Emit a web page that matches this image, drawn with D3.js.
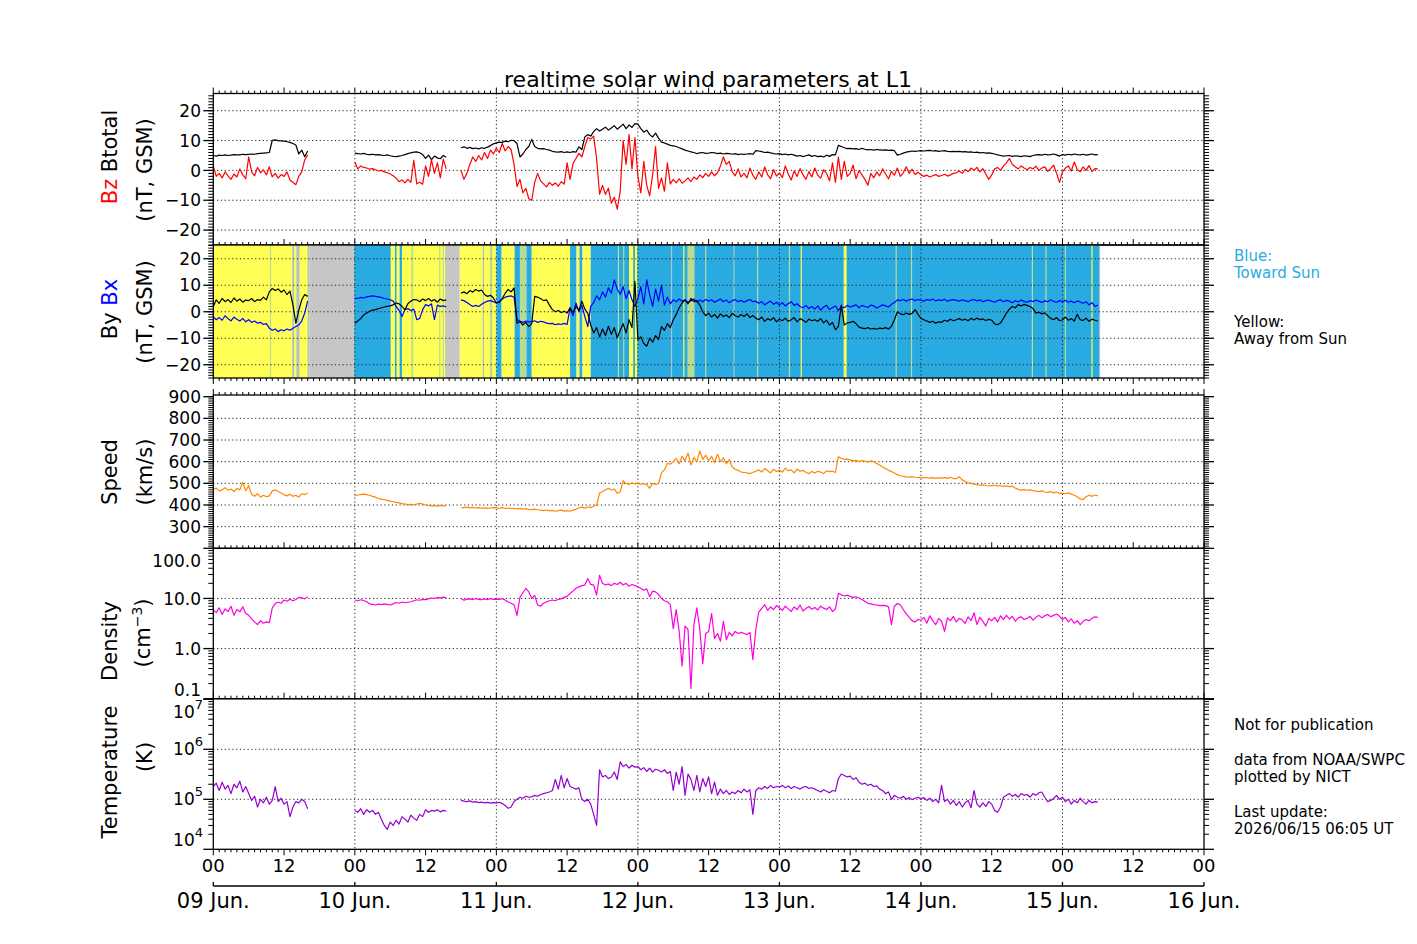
<!DOCTYPE html>
<meta charset="utf-8">
<script src="https://d3js.org/d3.v7.min.js"></script>
<style>
  body { margin: 0; background: #fff; }
  text { font-family: "DejaVu Sans", sans-serif; }
</style>
<div id="chart"></div>
<script>
var _ = null;
// one sample every 30 minutes, first sample at 09 Jun 00:00 UT
var stepHours = 0.5;

// Btotal (nT)
var btotal = [
  5.0,4.8,5.1,5.0,5.2,5.0,5.1,5.3,5.2,5.2,5.4,5.3,
  5.4,5.5,5.4,5.6,5.7,5.8,5.9,6.0,10.1,10.2,10.0,9.9,
  9.8,9.6,9.4,9.0,8.5,5.5,6.8,4.6,6.5,_,_,_,
  _,_,_,_,_,_,_,_,_,_,_,_,
  5.8,5.6,5.5,5.7,5.4,5.3,5.4,5.2,5.3,5.1,5.0,5.2,
  4.9,4.7,4.6,4.8,5.0,5.3,5.6,5.9,6.1,6.2,5.9,5.3,
  4.0,5.1,3.6,4.8,4.2,3.9,5.0,4.4,_,_,_,_,
  7.6,7.9,7.4,7.7,7.3,7.5,7.2,7.6,7.4,7.8,8.3,8.9,
  9.2,9.5,9.4,9.8,9.6,10.1,10.0,9.0,4.5,5.5,7.0,8.0,
  10.4,8.0,7.4,7.2,7.3,7.0,6.8,6.4,6.2,6.1,6.3,6.0,
  6.2,6.0,6.3,6.1,7.9,7.0,11.2,12.0,11.5,13.0,14.0,13.2,
  13.8,14.5,13.5,14.2,15.0,13.8,14.6,15.5,14.0,15.2,14.4,15.7,
  15.5,14.0,12.8,13.5,12.0,11.2,12.5,10.8,9.5,9.2,8.8,8.4,
  8.2,8.0,7.6,7.2,6.8,6.5,6.2,6.0,5.6,5.9,6.0,5.7,
  5.8,6.0,5.9,5.6,5.8,5.5,5.7,5.6,5.4,5.6,5.3,5.5,
  5.4,5.5,5.6,5.4,6.6,6.5,6.3,6.0,6.1,5.9,5.6,5.5,
  5.6,5.3,5.5,5.2,5.4,5.1,4.8,5.0,4.6,4.9,5.2,4.7,
  5.0,4.6,4.8,4.5,5.1,4.7,5.3,5.2,8.4,8.0,7.6,7.3,
  7.4,7.2,7.3,7.0,7.4,7.1,6.9,7.0,6.8,7.0,6.9,6.8,
  6.9,6.7,6.8,6.6,5.1,5.4,5.8,6.1,6.3,6.5,6.4,6.5,
  6.6,6.5,6.6,6.7,6.5,6.6,6.4,6.5,6.6,6.4,6.3,6.4,
  6.3,6.4,6.2,6.3,6.1,6.2,6.0,6.1,5.9,6.0,5.8,5.9,
  5.7,5.5,5.2,5.0,4.8,4.9,5.0,4.7,4.9,4.8,4.6,4.9,
  4.8,4.6,5.0,5.2,5.3,5.1,5.4,5.2,5.3,5.5,5.2,4.8,
  5.3,5.1,5.4,5.2,5.5,5.3,5.2,5.4,5.1,5.3,5.5,5.2,
  5.3
];

// Bz GSM (nT)
var bz = [
  1.5,-2.0,-1.0,-2.5,-0.5,-1.8,-3.0,-1.2,-2.2,0.5,-1.5,-2.8,
  4.5,-0.5,-1.8,1.0,-0.8,0.2,-1.5,1.2,-2.2,-1.0,-2.6,-1.4,
  -2.0,-0.5,-3.2,-4.0,-4.8,-2.0,-0.5,3.5,5.2,_,_,_,
  _,_,_,_,_,_,_,_,_,_,_,_,
  2.8,0.5,1.5,1.0,0.8,0.4,0.6,0.2,-0.2,0.0,-0.5,-0.8,
  -1.2,-1.8,-2.6,-3.8,-3.2,-4.2,-3.0,-4.0,3.4,-4.5,-4.0,-4.6,
  1.5,-2.0,3.5,-1.0,2.5,-2.5,3.8,0.5,_,_,_,_,
  0.0,-3.0,-1.0,2.0,4.5,3.0,5.0,3.5,6.0,4.0,6.8,5.5,
  7.5,6.0,9.0,6.5,8.0,7.0,2.0,-5.4,-3.0,-7.5,-6.0,-9.5,
  -10.0,-4.0,-1.0,-3.5,-4.5,-5.5,-4.0,-5.0,-4.2,-5.3,-3.8,-4.6,
  2.5,-3.0,2.3,4.0,5.7,4.5,8.0,11.0,10.5,11.5,4.0,-8.0,
  -5.0,-8.0,-6.0,-11.0,-9.0,-13.0,-7.0,10.0,2.0,12.0,0.5,11.0,
  -2.0,-7.5,3.0,-5.0,-8.5,-1.5,8.0,-6.0,-2.5,-7.0,2.5,-4.5,
  -3.0,-4.2,-2.8,-4.3,-3.5,-2.5,-3.8,-2.2,-3.0,-1.5,-2.4,-1.0,
  -2.0,-0.5,-1.8,-0.8,1.5,4.5,2.0,3.0,-0.5,-1.8,0.5,-2.2,
  -1.0,-2.5,0.8,-1.6,-3.0,-0.5,-2.2,1.2,-1.4,-2.8,0.3,-1.9,
  -0.8,-2.4,1.5,-1.2,-3.2,-0.2,-2.0,0.6,-1.5,-3.0,-0.4,-2.2,
  0.8,-1.6,-2.6,0.2,-1.0,-3.5,2.5,-4.0,4.5,-3.0,3.0,-2.0,
  -1.0,1.8,-2.8,0.0,-1.5,-3.0,-5.0,-1.0,-2.5,-0.5,-1.8,0.5,
  -1.2,-2.8,-0.3,-1.6,0.8,-2.0,-0.8,1.2,-1.0,0.4,-1.4,-0.6,
  -1.5,-2.0,-1.6,-2.2,-1.8,-1.4,-2.0,-1.7,-1.3,-1.9,-1.5,-1.0,
  -0.8,-0.2,-1.0,0.3,-0.4,0.8,0.0,1.0,-0.5,0.6,-1.2,-3.0,
  -1.5,0.5,1.0,0.0,1.5,2.5,4.0,2.0,1.2,0.5,1.5,0.8,
  0.2,1.0,0.5,1.4,0.0,0.8,1.2,-0.3,0.6,1.8,-1.0,-4.0,
  -0.5,0.8,1.5,-0.2,2.8,0.3,-0.5,1.2,0.0,1.6,-0.4,0.6,
  0.5
];

// By GSM (nT)
var by = [
  2.0,4.5,3.2,5.0,3.8,4.6,3.5,5.2,4.0,4.8,3.6,4.4,
  4.2,5.0,3.8,4.6,4.3,5.5,4.5,7.5,8.8,8.0,8.6,7.4,
  8.2,6.5,7.8,2.7,-4.3,0.5,4.5,6.5,5.8,_,_,_,
  _,_,_,_,_,_,_,_,_,_,_,_,
  -4.3,-3.5,-2.6,-1.2,-0.5,0.2,0.6,0.8,1.2,1.5,1.8,2.0,
  2.2,2.6,3.3,3.0,2.0,0.8,3.0,4.0,4.6,4.5,3.8,4.8,
  4.2,5.0,4.0,4.6,3.6,4.8,4.2,4.5,_,_,_,_,
  7.0,7.5,6.8,8.0,7.4,8.4,7.8,8.2,6.5,5.8,6.2,5.2,
  3.3,3.5,5.0,7.0,8.4,7.5,9.0,-4.3,-3.7,-5.0,-4.0,-5.6,
  -4.5,5.8,5.5,5.0,4.2,4.5,2.5,0.8,0.0,0.5,-0.3,0.2,
  -0.5,1.5,-0.3,2.0,0.5,4.0,1.0,-0.5,-5.0,-8.0,-6.0,-9.5,
  -6.5,-9.0,-5.5,-8.5,-6.0,-9.8,-7.0,-4.5,-8.0,-3.0,-6.0,11.5,
  -10.5,-9.5,-12.0,-13.0,-10.0,-11.5,-9.0,-10.5,-5.6,-7.0,-4.5,-6.0,
  -3.0,-1.0,1.5,3.3,4.5,3.0,5.0,3.8,4.2,2.5,0.0,-1.5,
  -0.5,-2.0,-1.0,-2.4,-0.8,-1.8,-1.2,-2.2,-0.6,-1.5,-2.0,-1.0,
  -1.8,-0.8,-2.2,-1.4,-2.4,-3.0,-2.0,-3.6,-2.6,-3.2,-2.2,-3.8,
  -2.8,-3.4,-2.4,-3.6,-3.0,-2.2,-3.8,-2.6,-3.2,-4.0,-2.8,-3.4,
  -3.0,-3.6,-2.6,-4.2,-3.2,-5.0,-4.0,-6.8,-5.5,2.5,-5.0,-4.2,
  -4.0,-3.6,-4.5,-5.8,-6.2,-6.4,-6.0,-6.5,-6.3,-6.6,-6.2,-6.4,
  -6.0,-6.5,-5.5,-3.0,0.0,-0.8,-1.1,-0.5,-1.0,-0.6,0.8,-1.0,
  -2.5,-3.0,-3.5,-4.0,-3.6,-4.3,-3.8,-4.0,-3.2,-3.6,-2.8,-3.4,
  -3.0,-2.6,-3.2,-2.8,-3.4,-2.5,-3.1,-2.4,-3.0,-2.7,-3.3,-2.9,
  -3.2,-4.6,-4.9,-4.2,-2.5,-0.5,1.0,2.0,1.5,2.7,2.2,2.8,
  2.4,2.0,1.2,-0.5,-0.2,-0.8,-0.4,-1.5,-2.5,-3.0,-2.2,-3.4,
  -3.0,-2.0,-3.2,-2.6,-3.5,-1.0,-3.0,-3.3,-2.4,-3.6,-2.8,-3.2,
  -3.5
];

// Bx GSM (nT)
var bx = [
  -2.0,-3.0,-2.2,-3.2,-1.5,-2.6,-3.4,-2.0,-2.8,-3.5,-2.5,-3.8,
  -3.0,-4.0,-3.5,-4.3,-4.0,-4.8,-4.5,-6.2,-7.0,-6.5,-7.5,-6.8,
  -7.2,-6.5,-7.0,-6.2,-5.6,-5.0,-3.5,-0.5,4.0,_,_,_,
  _,_,_,_,_,_,_,_,_,_,_,_,
  5.2,5.0,5.4,5.2,5.6,5.8,6.0,5.8,5.6,5.4,5.0,4.8,
  4.5,4.0,2.0,0.5,-1.8,0.8,1.2,0.5,1.0,-3.0,-2.5,0.8,
  2.7,2.2,3.0,-3.0,2.5,2.0,2.2,1.8,_,_,_,_,
  4.5,4.2,3.5,2.7,2.0,2.4,2.0,2.8,3.5,4.0,4.2,3.8,
  3.3,4.0,4.8,5.5,5.8,6.0,5.5,-3.0,-3.5,-4.0,-3.5,-3.8,
  -3.7,-3.4,-4.0,-3.6,-3.8,-4.3,-4.5,-4.4,-4.9,-4.6,-4.8,-4.4,
  -4.8,1.5,-1.5,3.3,0.0,2.5,-1.8,-5.6,2.0,3.5,6.0,4.5,
  7.5,5.5,9.0,7.0,12.0,8.5,6.5,9.5,5.0,8.0,4.5,2.0,
  5.0,9.5,3.0,12.0,6.5,2.0,8.5,4.0,10.0,2.5,5.5,3.0,
  4.5,3.8,4.8,4.0,4.5,3.5,4.2,4.8,3.6,4.4,3.8,4.6,
  4.0,4.5,3.6,4.2,4.8,3.8,4.4,3.4,4.2,4.6,3.8,4.3,
  3.6,4.2,4.6,3.8,4.0,3.2,3.8,2.6,3.4,4.0,2.8,3.6,
  2.5,3.4,2.2,3.0,3.8,2.4,3.0,2.0,1.5,2.4,1.2,2.0,
  1.0,2.2,0.6,1.8,2.4,0.8,1.6,2.2,0.4,2.0,1.5,2.4,
  1.8,2.2,2.6,1.5,2.4,2.0,1.6,2.5,2.2,1.4,2.0,2.6,
  2.2,1.8,2.8,3.5,4.5,4.2,4.6,4.0,4.5,4.8,4.2,4.6,
  4.4,4.0,4.6,4.3,4.8,4.1,4.5,4.2,4.7,4.0,4.4,4.6,
  4.3,4.0,4.5,4.2,3.8,4.4,4.6,4.1,4.5,3.8,4.2,4.4,
  4.0,3.6,4.2,4.5,3.8,4.3,4.0,3.4,4.2,3.7,4.4,3.9,
  3.6,4.2,3.8,4.4,4.0,3.5,4.1,3.8,4.5,3.9,3.6,4.2,
  3.8,4.3,3.6,4.0,3.4,4.1,3.7,3.2,3.8,2.6,3.4,2.0,
  2.5
];

// bulk speed (km/s)
var speed = [
  472,478,465,470,480,468,474,462,476,470,505,466,
  490,448,440,452,436,445,438,442,465,470,462,455,
  448,442,450,440,445,436,452,448,455,_,_,_,
  _,_,_,_,_,_,_,_,_,_,_,_,
  442,446,448,450,448,445,440,436,430,427,424,421,
  418,415,412,410,406,404,402,403,401,404,408,404,
  400,398,396,397,395,398,396,397,_,_,_,_,
  386,388,390,387,389,386,388,385,387,384,386,388,
  387,385,388,384,386,383,385,382,384,381,383,380,
  379,381,378,376,374,377,373,375,371,374,376,372,
  374,371,376,380,386,390,385,392,388,394,400,455,
  462,470,477,469,474,454,460,512,500,495,502,497,
  500,496,498,494,477,500,495,498,548,562,592,588,
  600,615,590,625,605,640,585,620,598,650,610,630,
  605,625,595,635,600,618,590,610,575,565,560,552,
  550,548,545,550,556,562,552,568,558,548,565,555,
  560,552,570,558,562,548,566,556,560,550,545,555,
  548,556,552,545,558,554,556,550,623,615,610,612,
  608,604,606,600,605,603,598,604,600,592,585,575,
  568,560,555,548,540,535,532,530,529,531,528,527,
  526,525,527,524,526,523,525,524,526,523,528,522,
  522,530,516,508,502,500,496,494,491,493,490,488,
  489,491,487,490,486,488,484,487,478,472,469,471,
  468,470,466,464,462,465,460,458,462,456,460,454,
  455,452,456,450,445,438,428,425,438,445,440,446,
  442
];

// proton density (cm^-3)
var density = [
  5.9,5.2,6.5,4.8,6.2,5.5,7.0,4.6,6.0,5.4,6.8,5.0,
  4.6,3.9,3.4,3.0,3.6,3.2,3.4,3.3,6.5,7.9,8.4,8.0,
  9.3,8.8,9.6,9.0,9.5,10.5,10.3,9.8,10.8,_,_,_,
  _,_,_,_,_,_,_,_,_,_,_,_,
  9.3,9.0,9.4,9.1,8.6,7.8,7.6,7.4,7.7,7.5,7.8,7.6,
  7.4,7.8,8.3,8.0,8.5,8.2,8.4,8.6,9.0,9.4,9.2,9.6,
  9.5,9.8,10.2,10.0,10.4,10.3,10.6,10.4,_,_,_,_,
  10.0,9.2,9.7,9.8,9.5,9.9,9.6,9.4,9.8,9.5,9.9,9.6,
  9.7,9.5,9.9,9.3,8.5,8.0,7.5,4.6,10.5,13.0,15.8,13.5,
  10.0,11.5,7.4,7.0,8.0,8.5,9.0,9.3,9.0,9.6,9.8,10.5,
  11.0,12.5,14.0,16.0,17.0,18.0,18.5,25.0,19.0,18.5,11.6,29.0,
  20,18.5,19.5,18,20,19,21,18.5,20,17.5,19,18,
  17,16,14.6,15.5,10.8,14.0,13.5,12.0,10.0,9.0,8.6,7.5,
  2.5,6.0,2.2,0.45,2.8,2.4,0.16,3.0,6.5,2.4,0.5,2.0,
  2.2,5.0,1.6,2.0,1.4,3.5,1.5,2.1,1.8,2.2,2.0,2.1,
  2.0,1.9,2.1,0.6,2.4,5.4,6.3,7.5,5.8,6.8,6.0,7.2,
  6.5,5.8,7.0,6.2,5.5,6.8,6.0,7.4,5.6,6.3,6.9,6.1,
  6.6,5.9,7.0,6.4,6.0,6.8,5.5,6.2,12.6,11.8,11.2,11.6,
  11.0,10.5,10.8,10.2,9.5,8.8,8.0,7.8,7.5,7.4,7.2,7.3,
  7.2,6.8,3.0,7.0,7.9,7.5,6.0,5.0,4.2,3.6,3.4,3.8,
  3.7,4.2,3.2,4.5,3.6,3.0,4.0,3.5,2.2,4.1,3.6,4.4,
  3.4,4.0,3.7,3.2,4.3,3.6,5.2,3.0,4.2,3.5,2.8,4.0,
  3.6,4.2,3.4,4.5,3.8,4.6,3.9,4.4,3.5,4.1,4.3,3.8,
  4.0,4.4,3.7,4.2,4.6,4.1,4.5,4.8,4.3,4.6,4.9,4.4,
  3.8,4.2,3.4,3.9,3.2,3.6,3.0,3.5,3.8,3.6,4.0,4.3,
  4.2
];

// proton temperature (K)
var temperature = [
  1.8e5,2.1e5,1.5e5,2.2e5,1.6e5,1.9e5,1.3e5,2.0e5,1.7e5,2.3e5,1.4e5,1.8e5,
  1.3e5,0.95e5,1.15e5,0.7e5,1.0e5,0.85e5,1.1e5,0.8e5,0.95e5,1.8e5,0.9e5,1.05e5,
  0.8e5,0.9e5,0.45e5,0.7e5,0.9e5,0.85e5,1.0e5,0.9e5,0.65e5,_,_,_,
  _,_,_,_,_,_,_,_,_,_,_,_,
  0.6e5,0.55e5,0.65e5,0.5e5,0.62e5,0.55e5,0.6e5,0.5e5,0.55e5,0.4e5,0.3e5,0.25e5,
  0.35e5,0.3e5,0.38e5,0.32e5,0.45e5,0.4e5,0.35e5,0.48e5,0.42e5,0.38e5,0.5e5,0.45e5,
  0.62e5,0.55e5,0.6e5,0.58e5,0.62e5,0.56e5,0.6e5,0.58e5,_,_,_,_,
  0.95e5,0.92e5,0.9e5,0.93e5,0.88e5,0.9e5,0.86e5,0.88e5,0.85e5,0.87e5,0.84e5,0.86e5,
  0.85e5,0.87e5,0.82e5,0.75e5,0.66e5,0.7e5,0.9e5,1.0e5,1.1e5,1.05e5,1.15e5,1.1e5,
  1.12e5,1.2e5,1.15e5,1.25e5,1.3e5,1.35e5,1.4e5,1.5e5,2.5e5,1.6e5,3.0e5,1.7e5,
  2.6e5,1.8e5,1.7e5,1.6e5,1.7e5,1.0e5,0.9e5,1.0e5,0.8e5,0.5e5,0.3e5,3.9e5,
  2.8e5,3.0e5,2.6e5,2.8e5,3.5e5,2.5e5,5.6e5,4.5e5,5.0e5,4.2e5,4.8e5,4.4e5,
  4.5e5,3.9e5,4.3e5,3.6e5,4.2e5,3.5e5,4.0e5,3.8e5,3.5e5,3.9e5,3.3e5,3.6e5,
  1.5e5,3.5e5,2.0e5,4.5e5,1.2e5,3.2e5,2.5e5,1.5e5,3.0e5,1.4e5,2.6e5,1.8e5,
  2.8e5,1.3e5,2.2e5,1.2e5,1.6e5,1.3e5,1.5e5,1.25e5,1.4e5,1.3e5,1.5e5,1.35e5,
  1.6e5,1.4e5,1.55e5,0.5e5,1.5e5,1.7e5,1.6e5,1.8e5,1.65e5,1.9e5,1.7e5,1.8e5,
  1.75e5,1.9e5,1.7e5,1.85e5,1.65e5,1.8e5,1.7e5,1.6e5,1.75e5,1.8e5,1.65e5,1.7e5,
  1.6e5,1.5e5,1.4e5,1.55e5,1.45e5,1.35e5,1.5e5,1.45e5,2.6e5,3.2e5,3.0e5,2.8e5,
  2.9e5,2.5e5,2.7e5,2.2e5,2.0e5,2.1e5,1.9e5,2.0e5,1.8e5,1.85e5,1.6e5,1.5e5,
  1.3e5,1.4e5,1.0e5,1.2e5,1.1e5,1.05e5,1.15e5,1.0e5,1.08e5,0.98e5,1.05e5,1.1e5,
  1.0e5,1.08e5,0.95e5,1.05e5,0.9e5,1.0e5,0.85e5,1.9e5,0.9e5,1.0e5,0.8e5,0.95e5,
  0.75e5,0.9e5,0.7e5,0.85e5,0.95e5,0.68e5,1.5e5,0.8e5,0.7e5,0.85e5,0.72e5,0.9e5,
  0.8e5,0.6e5,0.55e5,0.7e5,1.1e5,1.2e5,1.3e5,1.15e5,1.25e5,1.1e5,1.3e5,1.2e5,
  1.25e5,1.1e5,1.3e5,1.2e5,1.35e5,1.4e5,1.1e5,0.9e5,0.95e5,1.05e5,1.2e5,1.0e5,
  1.1e5,0.9e5,1.0e5,0.8e5,0.95e5,0.85e5,1.05e5,0.9e5,0.8e5,0.95e5,0.85e5,0.9e5,
  0.88e5
];

// IMF sector shading behind By/Bx: [start hour, end hour, kind]
// A = away (yellow), T = toward (blue), N = no data, M/G = mixed minutes
var sectors = [
  [0, 16.3, "A"], [9.6, 9.8, "M"], [13.4, 13.7, "G"], [14.1, 14.6, "G"], [16.0, 16.3, "G"],
  [16.3, 23.9, "N"],
  [23.9, 30.1, "T"], [30.1, 30.8, "A"], [30.8, 31.1, "T"], [31.1, 31.6, "A"], [31.6, 32.0, "T"],
  [32.0, 39.3, "A"], [33.6, 33.9, "M"], [38.3, 38.5, "M"], [38.9, 39.1, "M"],
  [39.3, 41.8, "N"],
  [41.8, 48.0, "A"], [45.7, 45.9, "G"], [46.9, 47.3, "M"],
  [48.0, 48.9, "T"], [48.9, 51.1, "A"], [51.1, 52.0, "T"], [52.0, 53.1, "M"], [53.1, 54.0, "T"],
  [54.0, 60.5, "A"], [60.5, 61.6, "T"], [61.6, 62.1, "A"], [62.1, 62.6, "T"], [62.6, 64.0, "A"],
  [64.0, 150.2, "T"],
  [68.6, 68.8, "M"], [69.5, 69.7, "M"], [70.5, 71.2, "A"], [71.5, 71.9, "A"],
  [77.6, 77.8, "G"], [79.7, 79.9, "A"], [80.4, 81.6, "M"], [83.4, 83.6, "M"], [88.2, 88.4, "G"],
  [92.2, 92.4, "M"], [97.6, 97.8, "M"], [99.6, 99.8, "A"], [106.9, 107.4, "A"],
  [115.7, 115.9, "M"], [118.3, 118.5, "M"], [138.8, 139.0, "M"], [141.1, 141.3, "M"],
  [144.4, 144.6, "M"], [148.9, 149.1, "A"], [150.2, 150.4, "G"]
];
var sectorColor = {A: "#ffff55", T: "#29abe2", N: "#c6c6c6", M: "#b9dc93", G: "#a9c3cf"};

var fieldTicks = [-20, -10, 0, 10, 20];
var speedTicks = [300, 400, 500, 600, 700, 800, 900];
var densityTicks = [0.1, 1, 10, 100];
var densityLabels = ["0.1", "1.0", "10.0", "100.0"];
var tempTicks = [1e4, 1e5, 1e6, 1e7];
var tempExponents = ["4", "5", "6", "7"];
var dayLabels = ["09 Jun.", "10 Jun.", "11 Jun.", "12 Jun.", "13 Jun.", "14 Jun.", "15 Jun.", "16 Jun."];

var svg = d3.select("#chart").append("svg")
    .attr("width", 1417)
    .attr("height", 944);

// 7 days on the time axis, in hours from 09 Jun 00 UT
var x = d3.scaleLinear().domain([0, 168]).range([213.3, 1204]);
var xl = x.range()[0], xr = x.range()[1];

function toPoints(values) {
  return values.map(function(v, i) { return {h: i * stepHours, v: v}; });
}

function logMinor(lo, hi) {
  var out = [];
  for (var e = Math.log10(lo); e < Math.log10(hi); e++)
    for (var k = 2; k <= 9; k++) out.push(k * Math.pow(10, e));
  return out;
}

var panels = [
  {top: 93.5, bottom: 245, y: d3.scaleLinear().domain([-25, 25]).range([245, 95.8]),
   ticks: fieldTicks, minor: d3.range(-25, 26), grid: fieldTicks, topDir: -1, botDir: -1,
   series: [[btotal, "#000"], [bz, "#ff0000"]]},
  {top: 245, bottom: 378, y: d3.scaleLinear().domain([-25, 25]).range([378, 245.5]),
   ticks: fieldTicks, minor: d3.range(-25, 26), grid: fieldTicks, topDir: 0, botDir: 1,
   series: [[bx, "#0000ff"], [by, "#000"]], sectors: true},
  {top: 395, bottom: 548.3, y: d3.scaleLinear().domain([200, 900]).range([548.3, 396.7]),
   ticks: speedTicks, minor: d3.range(200, 901, 10), grid: speedTicks.slice(0, -1), topDir: -1, botDir: -1,
   series: [[speed, "#ff8800"]]},
  {top: 548.3, bottom: 698.7, y: d3.scaleLog().domain([0.1, 100]).range([698.7, 548.3]),
   ticks: densityTicks, minor: logMinor(0.1, 100), grid: [1, 10], topDir: 0, botDir: -1,
   labels: densityLabels, series: [[density, "#ff00dd"]]},
  {top: 698.7, bottom: 849.3, y: d3.scaleLog().domain([1e4, 1e7]).range([849.3, 699.3]),
   ticks: tempTicks, minor: logMinor(1e4, 1e7), grid: [1e5, 1e6], topDir: 0, botDir: 1,
   exponents: tempExponents, series: [[temperature, "#9400d3"]]}
];

var hourTicks = d3.range(0, 169, 1);
var dayTicks = d3.range(24, 168, 24);

panels.forEach(function(p, idx) {
  var g = svg.append("g");
  var clipId = "clip" + idx;
  svg.append("clipPath").attr("id", clipId)
    .append("rect").attr("x", xl).attr("y", p.top).attr("width", xr - xl).attr("height", p.bottom - p.top);

  if (p.sectors) {
    g.append("g").selectAll("rect")
      .data(sectors)
      .enter().append("rect")
        .attr("x", function(d) { return x(d[0]); })
        .attr("width", function(d) { return x(d[1]) - x(d[0]); })
        .attr("y", p.top)
        .attr("height", p.bottom - p.top)
        .attr("fill", function(d) { return sectorColor[d[2]]; });
  }

  // dotted grid
  g.selectAll(".hgrid").data(p.grid).enter().append("line")
    .attr("x1", xl).attr("x2", xr)
    .attr("y1", function(d) { return p.y(d); })
    .attr("y2", function(d) { return p.y(d); })
    .attr("stroke", "#222").attr("stroke-width", 1).attr("stroke-dasharray", "1.2,2.6");
  g.selectAll(".vgrid").data(dayTicks).enter().append("line")
    .attr("x1", function(d) { return x(d); }).attr("x2", function(d) { return x(d); })
    .attr("y1", p.top).attr("y2", p.bottom)
    .attr("stroke", "#222").attr("stroke-width", 1).attr("stroke-dasharray", "1.2,2.6");

  // data
  var line = d3.line()
    .defined(function(d) { return d.v != null; })
    .x(function(d) { return x(d.h); })
    .y(function(d) { return p.y(d.v); });
  p.series.forEach(function(s) {
    g.append("path")
      .datum(toPoints(s[0]))
      .attr("clip-path", "url(#" + clipId + ")")
      .attr("fill", "none")
      .attr("stroke", s[1])
      .attr("stroke-width", 1.2)
      .attr("stroke-linejoin", "round")
      .attr("d", line);
  });

  // frame
  g.append("rect")
    .attr("x", xl).attr("y", p.top).attr("width", xr - xl).attr("height", p.bottom - p.top)
    .attr("fill", "none").attr("stroke", "#000").attr("stroke-width", 1.3);

  // y ticks, both sides, pointing out
  var yt = g.append("g").attr("stroke", "#000").attr("stroke-width", 1);
  p.minor.forEach(function(v) {
    var yy = p.y(v);
    yt.append("line").attr("x1", xl - 5).attr("x2", xl).attr("y1", yy).attr("y2", yy);
    yt.append("line").attr("x1", xr).attr("x2", xr + 5).attr("y1", yy).attr("y2", yy);
  });
  p.ticks.forEach(function(v) {
    var yy = p.y(v);
    yt.append("line").attr("x1", xl - 10).attr("x2", xl).attr("y1", yy).attr("y2", yy).attr("stroke-width", 1.3);
    yt.append("line").attr("x1", xr).attr("x2", xr + 10).attr("y1", yy).attr("y2", yy).attr("stroke-width", 1.3);
  });

  // x ticks along the panel edges
  function edgeTicks(yEdge, dir) {
    if (!dir) return;
    hourTicks.forEach(function(h) {
      var len = (h % 12 === 0) ? 6 : 3;
      yt.append("line").attr("x1", x(h)).attr("x2", x(h))
        .attr("y1", yEdge).attr("y2", yEdge + dir * len);
    });
  }
  edgeTicks(p.top, p.topDir);
  edgeTicks(p.bottom, p.botDir);

  // y tick labels; log panels keep their end labels inside the frame
  p.ticks.forEach(function(v, i) {
    var yy = p.y(v);
    var nudge = 0;
    var isLog = p.labels || p.exponents;
    if (isLog && Math.abs(yy - p.top) < 2) nudge = 13;
    if (isLog && Math.abs(yy - p.bottom) < 2) nudge = -9;
    var t = g.append("text")
      .attr("x", p.exponents ? 203 : 201)
      .attr("y", yy + nudge)
      .attr("dy", "0.36em")
      .attr("text-anchor", "end")
      .attr("font-size", 17);
    if (p.exponents) {
      t.append("tspan").text("10");
      t.append("tspan").attr("dy", -9).attr("font-size", 13).text(p.exponents[i]);
    } else if (p.labels) {
      t.text(p.labels[i]);
    } else {
      t.text(String(v).replace("-", "\u2212"));
    }
  });
});

// bottom time axis
var bottom = svg.append("g");
bottom.selectAll("text.hr")
  .data(d3.range(0, 169, 12))
  .enter().append("text")
    .attr("x", function(d) { return x(d); })
    .attr("y", 872)
    .attr("text-anchor", "middle")
    .attr("font-size", 18)
    .text(function(d) { return d % 24 === 0 ? "00" : "12"; });
bottom.append("line")
  .attr("x1", xl).attr("x2", xr).attr("y1", 886).attr("y2", 886)
  .attr("stroke", "#000").attr("stroke-width", 1.3);
bottom.selectAll("line.day")
  .data(dayLabels)
  .enter().append("line")
    .attr("x1", function(d, i) { return x(i * 24); })
    .attr("x2", function(d, i) { return x(i * 24); })
    .attr("y1", 882).attr("y2", 886)
    .attr("stroke", "#000").attr("stroke-width", 1.3);
bottom.selectAll("text.day")
  .data(dayLabels)
  .enter().append("text")
    .attr("x", function(d, i) { return x(i * 24); })
    .attr("y", 908)
    .attr("text-anchor", "middle")
    .attr("font-size", 21)
    .text(function(d) { return d; });

// title
svg.append("text")
  .attr("x", 708).attr("y", 87)
  .attr("text-anchor", "middle")
  .attr("font-size", 22)
  .text("realtime solar wind parameters at L1");

// rotated axis titles
function axisTitle(xpos, ycenter, parts) {
  var t = svg.append("text")
    .attr("transform", "translate(" + xpos + "," + ycenter + ") rotate(-90)")
    .attr("text-anchor", "middle")
    .attr("dy", "0.35em")
    .attr("font-size", 21);
  parts.forEach(function(pt) {
    var s = t.append("tspan").attr("fill", pt[1] || "#000").text(pt[0]);
    if (pt[2]) s.attr("dy", pt[2]).attr("font-size", pt[3] || 21);
  });
}
axisTitle(110, 157, [["Bz", "#ff0000"], ["  Btotal"]]);
axisTitle(145, 170, [["(nT, GSM)"]]);
axisTitle(110, 309, [["By"], ["  "], ["Bx", "#0000ff"]]);
axisTitle(145, 312, [["(nT, GSM)"]]);
axisTitle(110, 472, [["Speed"]]);
axisTitle(145, 472, [["(km/s)"]]);
axisTitle(110, 641, [["Density"]]);
axisTitle(143, 633, [["(cm"], ["\u22123", "#000", -8, 14], [")", "#000", 8, 21]]);
axisTitle(110, 772, [["Temperature"]]);
axisTitle(145, 757, [["(K)"]]);

// notes on the right
var notes = [
  ["Blue:", 261, "#29abe2"], ["Toward Sun", 278, "#29abe2"],
  ["Yellow:", 327], ["Away from Sun", 344],
  ["Not for publication", 730],
  ["data from NOAA/SWPC", 765], ["plotted by NICT", 782],
  ["Last update:", 817], ["2026/06/15 06:05 UT", 834]
];
svg.selectAll("text.note")
  .data(notes)
  .enter().append("text")
    .attr("x", 1234)
    .attr("y", function(d) { return d[1]; })
    .attr("font-size", 15)
    .attr("fill", function(d) { return d[2] || "#000"; })
    .text(function(d) { return d[0]; });
</script>
